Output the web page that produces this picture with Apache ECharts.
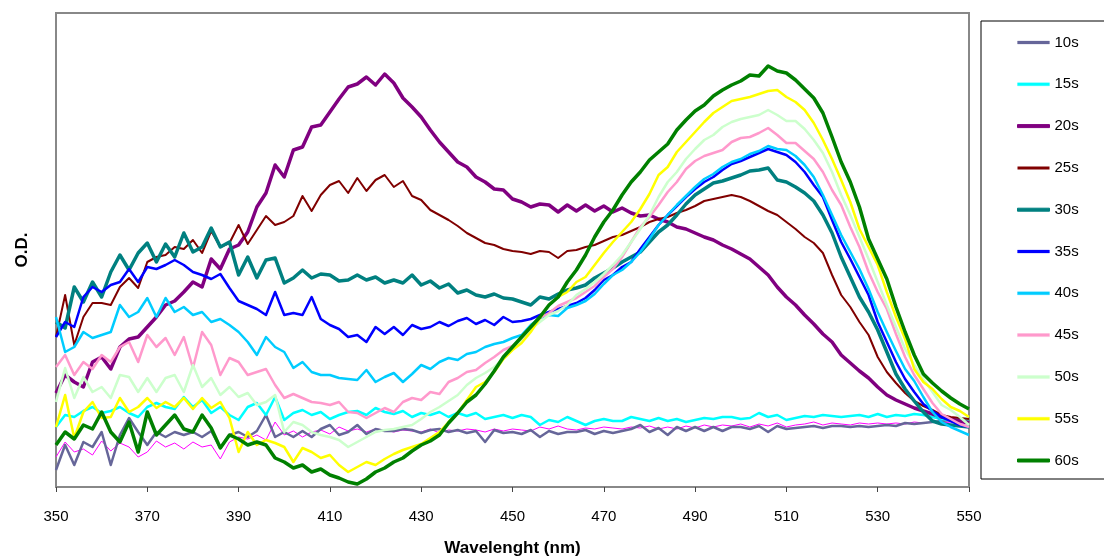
<!DOCTYPE html>
<html>
<head>
<meta charset="utf-8">
<script src="https://cdn.jsdelivr.net/npm/echarts@6/dist/echarts.min.js"></script>
<style>
html,body{margin:0;padding:0;background:#fff;}
#chart{width:1104px;height:560px;}
</style>
</head>
<body>
<div id="chart"></div>
<script>
// Wavelength (nm), 2 nm steps
const wavelength = [
 350,352,354,356,358,360,362,364,366,368,
 370,372,374,376,378,380,382,384,386,388,
 390,392,394,396,398,400,402,404,406,408,
 410,412,414,416,418,420,422,424,426,428,
 430,432,434,436,438,440,442,444,446,448,
 450,452,454,456,458,460,462,464,466,468,
 470,472,474,476,478,480,482,484,486,488,
 490,492,494,496,498,500,502,504,506,508,
 510,512,514,516,518,520,522,524,526,528,
 530,532,534,536,538,540,542,544,546,548,
 550];
const xTicks = [350,370,390,410,430,450,470,490,510,530,550];

// O.D. values (milli-OD, arbitrary offset)
const odExtra = [
 30,45,35,38,32,46,36,44,40,30,
 35,46,40,44,38,45,40,42,28,45,
 50,48,52,47,65,52,56,50,55,57,
 53,60,56,58,55,58,57,55,57,56,
 55,58,54,57,56,58,57,55,58,56,
 58,57,56,60,58,61,58,57,59,58,
 60,59,58,60,59,61,58,60,58,61,
 59,62,60,62,61,63,60,63,61,64,
 60,62,63,65,62,64,63,62,64,63,
 64,63,64,63,65,64,65,64,65,64,
 63];
const od10s = [
 17,42,22,45,40,55,22,52,69,55,
 42,55,50,55,52,55,50,56,39,52,
 55,50,56,72,50,55,50,56,50,58,
 62,52,55,62,53,58,56,56,58,57,
 54,57,58,55,57,54,56,45,57,54,
 55,53,57,50,56,53,55,55,57,53,
 56,54,56,58,62,55,59,52,60,56,
 60,56,60,56,60,60,58,61,55,61,
 58,59,60,61,59,61,61,60,61,60,
 61,62,61,64,63,64,65,66,67,67,
 66];
const od15s = [
 60,72,70,76,80,74,76,80,74,70,
 80,84,80,78,90,80,87,74,80,72,
 67,80,84,72,90,67,74,77,72,75,
 68,72,75,76,72,79,75,73,76,70,
 74,72,75,70,74,71,74,68,70,72,
 69,72,70,62,67,65,70,66,62,66,
 68,66,66,70,68,66,69,66,68,65,
 67,69,68,70,70,68,69,74,70,72,
 67,69,71,70,72,71,70,71,72,70,
 73,70,72,71,73,72,70,68,67,68,
 68];
const od20s = [
 94,112,105,100,125,130,118,140,148,150,
 160,170,182,186,195,205,200,228,218,238,
 242,255,280,294,322,310,337,340,360,362,
 375,388,400,403,410,402,413,404,389,380,
 370,357,345,335,325,320,310,305,298,297,
 288,285,280,283,282,275,282,276,282,276,
 281,275,279,274,271,272,268,265,260,258,
 254,250,247,242,238,233,228,220,212,200,
 190,182,172,163,153,145,132,124,116,109,
 100,92,87,83,79,76,73,70,68,66,
 64];
const od25s = [
 150,192,142,170,184,184,182,200,209,199,
 225,230,232,240,238,247,234,256,240,244,
 262,243,257,271,262,265,271,291,276,292,
 302,306,294,309,296,307,312,300,306,291,
 287,277,272,267,261,254,249,244,242,238,
 236,235,233,236,235,229,236,237,240,242,
 246,250,252,256,260,265,268,270,274,277,
 281,286,288,290,292,290,286,281,276,272,
 265,258,250,244,234,212,192,180,165,152,
 130,115,104,94,86,81,77,72,70,69,
 68];
const od30s = [
 165,159,200,185,205,190,215,232,217,234,
 244,225,243,230,254,235,240,259,240,245,
 212,230,209,227,229,204,209,217,209,213,
 212,206,207,212,207,210,204,207,204,212,
 202,206,199,203,194,197,192,190,193,189,
 188,185,182,190,188,193,197,199,202,209,
 214,219,225,230,235,245,255,262,272,283,
 292,298,304,306,309,312,316,317,319,307,
 305,300,294,286,272,254,230,210,190,175,
 157,135,113,98,86,75,66,63,62,61,
 60];
const od35s = [
 150,165,160,190,200,195,202,205,218,205,
 220,218,222,227,222,215,212,208,213,199,
 186,182,178,172,195,172,174,172,190,168,
 162,158,150,152,145,160,153,160,152,162,
 158,160,165,161,166,169,163,167,162,170,
 165,166,168,172,175,178,181,184,189,197,
 207,212,220,225,238,250,262,272,281,290,
 298,305,310,317,323,326,330,334,338,335,
 332,325,315,302,290,267,245,228,210,192,
 165,145,125,108,95,83,76,70,66,62,
 60];
const od40s = [
 170,135,140,155,149,152,155,182,170,175,
 189,170,189,175,180,172,175,165,168,162,
 155,145,132,150,140,135,119,125,115,112,
 112,109,108,107,117,105,110,114,105,113,
 122,118,125,129,127,133,135,140,143,145,
 149,152,162,169,172,171,179,182,186,193,
 203,212,217,225,235,248,262,272,282,291,
 300,308,313,320,325,328,333,336,341,338,
 337,331,322,310,292,272,252,235,218,198,
 175,155,136,118,106,90,75,65,60,56,
 52];
const od45s = [
 120,132,112,125,118,132,125,140,145,125,
 152,140,149,132,150,119,155,142,112,129,
 125,112,115,118,102,89,93,89,85,84,
 82,85,75,74,69,74,79,75,85,89,
 87,95,93,105,109,115,117,124,130,137,
 141,148,157,169,174,181,185,189,195,201,
 210,218,230,245,260,270,282,295,305,318,
 326,331,334,337,345,349,350,354,359,352,
 344,344,336,328,315,297,282,260,240,215,
 195,178,153,130,112,98,84,73,68,63,
 60];
const od50s = [
 85,119,89,110,95,100,89,112,110,95,
 109,95,109,112,95,122,100,109,92,100,
 90,94,82,85,92,55,65,62,55,52,
 50,47,40,45,50,55,57,58,60,62,
 68,75,80,86,92,102,109,114,120,128,
 138,148,158,165,172,176,182,192,198,205,
 213,222,232,245,258,272,290,305,315,328,
 338,347,352,360,365,368,370,372,377,372,
 366,366,358,347,334,315,292,272,250,228,
 205,182,160,138,122,108,95,82,77,70,
 62];
const od55s = [
 60,92,49,75,85,69,70,89,75,80,
 89,79,85,80,89,78,89,79,85,69,
 35,55,42,47,44,40,25,39,35,29,
 32,22,15,20,25,22,28,33,37,40,
 43,49,55,65,74,87,100,105,115,128,
 137,144,155,169,182,190,195,205,210,222,
 234,245,255,265,278,293,312,320,335,345,
 355,365,374,380,386,388,390,393,396,397,
 390,385,377,364,347,328,307,285,258,240,
 222,195,170,148,118,105,98,88,80,76,
 70];
const od60s = [
 42,55,48,62,58,75,55,45,65,35,
 75,52,62,72,58,55,72,59,39,52,
 48,42,45,42,29,25,19,22,15,18,
 12,9,5,3,8,15,19,25,29,36,
 42,46,52,64,74,85,92,103,116,130,
 140,150,160,170,182,190,205,217,232,250,
 265,277,292,305,315,327,335,343,357,367,
 376,382,391,397,402,406,412,411,421,416,
 414,407,398,389,374,350,325,305,280,248,
 228,208,180,155,132,113,104,96,89,83,
 78];

const seriesNames = ['10s','15s','20s','25s','30s','35s','40s','45s','50s','55s','60s'];
const seriesColors = ['#666699','#00FFFF','#800080','#800000','#008080','#0000FF','#00CCFF','#FF99CC','#CCFFCC','#FFFF00','#008000'];
const seriesWidths = [2.5,2.5,3.5,2,3.5,2.5,2.5,2.5,2.5,2.5,3.5];
const seriesValues = [od10s,od15s,od20s,od25s,od30s,od35s,od40s,od45s,od50s,od55s,od60s];

const FONT = "'Liberation Sans', Arial, sans-serif";

function toPairs(arr){ return wavelength.map((w,i)=>[w, arr[i]]); }

const series = [{
  name: 'extra', type: 'line', data: toPairs(odExtra), symbol: 'none',
  lineStyle: {color: '#FF00FF', width: 1}, itemStyle: {color: '#FF00FF'},
  silent: true, clip: false
}];
seriesNames.forEach((n, k) => {
  series.push({
    name: n, type: 'line', data: toPairs(seriesValues[k]), symbol: 'none',
    lineStyle: {color: seriesColors[k], width: seriesWidths[k], join: 'round'},
    itemStyle: {color: seriesColors[k]},
    clip: false
  });
});

// legend entries: rect icons, thicker ones get a border of same colour
const legendData = seriesNames.map((n, k) => ({
  name: n,
  icon: 'rect',
  itemStyle: {color: seriesColors[k], borderColor: seriesColors[k], borderWidth: seriesWidths[k] >= 3 ? 1 : (seriesWidths[k] < 2.5 ? 0 : 0.25)}
}));

const chart = echarts.init(document.getElementById('chart'), null, {renderer: 'canvas'});
chart.setOption({
  animation: false,
  backgroundColor: '#fff',
  grid: {left: 56, right: 135, top: 13, bottom: 73, show: true, borderColor: '#888', borderWidth: 2,
         backgroundColor: 'transparent', containLabel: false, outerBoundsMode: 'none'},
  xAxis: {
    type: 'value', min: 350, max: 550, interval: 20,
    name: 'Wavelenght (nm)', nameLocation: 'middle', nameGap: 53,
    nameTextStyle: {fontFamily: FONT, fontSize: 17, fontWeight: 'bold', color: '#000'},
    axisLine: {show: true, lineStyle: {color: '#888', width: 2}},
    axisTick: {show: true, length: 5, lineStyle: {color: '#444', width: 1}},
    axisLabel: {fontFamily: FONT, fontSize: 15, color: '#000', margin: 22,
      formatter: v => xTicks.includes(v) ? String(v) : ''},
    splitLine: {show: false}
  },
  yAxis: {
    type: 'value', min: 0, max: 474,
    name: 'O.D.', nameLocation: 'middle', nameGap: 25, nameRotate: 90,
    nameTextStyle: {fontFamily: FONT, fontSize: 17, fontWeight: 'bold', color: '#000'},
    axisLine: {show: false}, axisTick: {show: false}, axisLabel: {show: false},
    splitLine: {show: false}
  },
  legend: {
    orient: 'vertical', left: 981, top: 21,
    data: legendData,
    itemWidth: 32, itemHeight: 3, itemGap: 26.8,
    padding: [14, 60, 11, 36],
    borderColor: '#000', borderWidth: 1,
    textStyle: {fontFamily: FONT, fontSize: 15, color: '#000'},
    selectedMode: false
  },
  series: series
});
</script>
</body>
</html>
